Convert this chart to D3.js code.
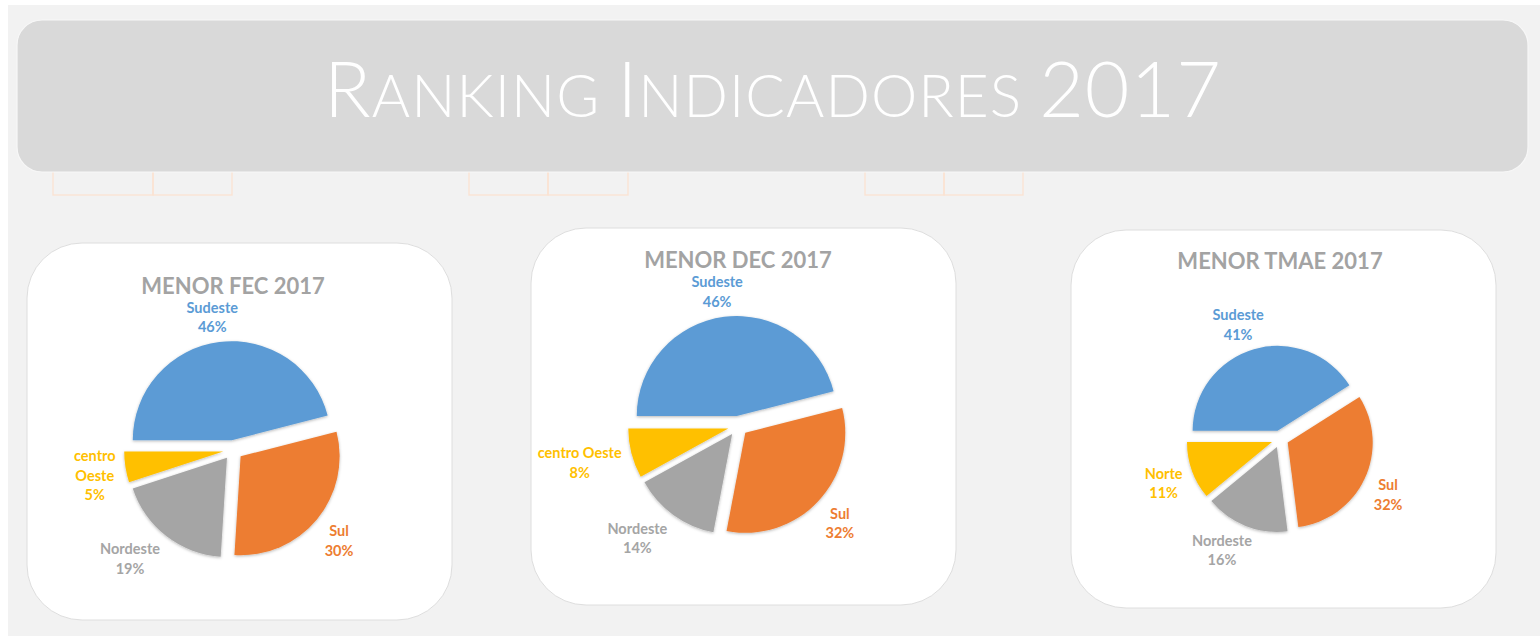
<!DOCTYPE html>
<html>
<head>
<meta charset="utf-8">
<script src="https://cdn.jsdelivr.net/npm/d3@7"></script>
<style>
html, body { margin: 0; padding: 0; background: #fff; }
svg { display: block; }
</style>
</head>
<body>
<svg id="chart" width="1540" height="636"></svg>
<script>
// dados
var regioesFEC = ["Sudeste", "Sul", "Nordeste", "centro Oeste"];
var valoresFEC = [46, 30, 19, 5];
var regioesDEC = ["Sudeste", "Sul", "Nordeste", "centro Oeste"];
var valoresDEC = [46, 32, 14, 8];
var regioesTMAE = ["Sudeste", "Sul", "Nordeste", "Norte"];
var valoresTMAE = [41, 32, 16, 11];
var titulos = ["MENOR FEC 2017", "MENOR DEC 2017", "MENOR TMAE 2017"];
var tituloGeral = [["R", 1], ["ANKING ", 0.76], ["I", 1], ["NDICADORES ", 0.76], ["2017", 1]];
var cores = ["#5b9bd5", "#ed7d31", "#a5a5a5", "#ffc000"];

// layout de cada painel (caixa, centro da pizza, raio)
var paineis = [
	{x: 27, y: 243, w: 425, h: 377, cx: 206, cy: 207, r: 99, tituloY: 51, quebra: 70},
	{x: 531, y: 228, w: 425, h: 377, cx: 207, cy: 198, r: 100, tituloY: 40, quebra: 0},
	{x: 1071, y: 230, w: 425, h: 378, cx: 209, cy: 209, r: 85, tituloY: 39, quebra: 0}
];
var series = [
	{nomes: regioesFEC, valores: valoresFEC},
	{nomes: regioesDEC, valores: valoresDEC},
	{nomes: regioesTMAE, valores: valoresTMAE}
];

var svg = d3.select("#chart");

var defs = svg.append("defs");
defs.append("filter")
	.attr("id", "sombra")
	.attr("x", "-20%").attr("y", "-20%")
	.attr("width", "140%").attr("height", "140%")
	.append("feDropShadow")
		.attr("dx", 0).attr("dy", 1)
		.attr("stdDeviation", 1.8)
		.attr("flood-color", "#000")
		.attr("flood-opacity", 0.28);

// fundo
svg.append("rect").attr("x", 8).attr("y", 5).attr("width", 1532).attr("height", 631).style("fill", "#f2f2f2");

// restos das celulas abaixo do cabecalho
var celulas = [[53, 100, 79], [469, 79, 80], [865, 79, 79]];
celulas.forEach(function(c){
	svg.append("rect").attr("x", c[0]).attr("y", 160).attr("width", c[1]).attr("height", 35)
		.style("fill", "none").style("stroke", "#fbe2d2").style("stroke-width", 1.3);
	svg.append("rect").attr("x", c[0] + c[1]).attr("y", 160).attr("width", c[2]).attr("height", 35)
		.style("fill", "none").style("stroke", "#fbe2d2").style("stroke-width", 1.3);
});

// cabecalho
svg.append("rect")
	.attr("x", 17).attr("y", 20)
	.attr("width", 1511).attr("height", 152)
	.attr("rx", 25).attr("ry", 25)
	.style("fill", "#d9d9d9")
	.style("stroke", "#f7f7f7")
	.style("stroke-width", 1.2);

var tamTitulo = 77;
var titulo = svg.append("text")
	.attr("x", 773).attr("y", 117)
	.attr("text-anchor", "middle")
	.style("font-family", "Lato, 'Open Sans', sans-serif")
	.style("font-weight", 300)
	.style("fill", "#ffffff");
titulo.selectAll("tspan").data(tituloGeral).enter().append("tspan")
	.style("font-size", function(d){ return (tamTitulo * d[1]) + "px"; })
	.text(function(d){ return d[0]; });
// espaco entre letras para chegar na largura do original (~897px)
var nLetras = tituloGeral.map(function(d){ return d[0]; }).join("").length;
var larg = titulo.node().getComputedTextLength();
titulo.style("letter-spacing", ((897 - larg) / (nLetras - 1)) + "px");

var pie = d3.pie().sort(null).startAngle(-Math.PI / 2).endAngle(1.5 * Math.PI);

function quebraLinhas(textEl, palavras, largura){
	// quebra simples por largura
	var linhas = [], atual = "";
	palavras.forEach(function(w){
		var teste = atual ? atual + " " + w : w;
		textEl.text(teste);
		if(largura && atual && textEl.node().getComputedTextLength() > largura){
			linhas.push(atual);
			atual = w;
		} else {
			atual = teste;
		}
	});
	linhas.push(atual);
	textEl.text(null);
	return linhas;
}

var tamRotulo = 14.5, alturaLinha = 19.5, capRotulo = tamRotulo * 0.72;

paineis.forEach(function(p, i){
	var s = series[i];
	var g = svg.append("g").attr("transform", "translate(" + p.x + "," + p.y + ")");

	g.append("rect")
		.attr("x", 0).attr("y", 0)
		.attr("width", p.w).attr("height", p.h)
		.attr("rx", 55).attr("ry", 55)
		.style("fill", "#ffffff")
		.style("stroke", "#dedede")
		.style("stroke-width", 1);

	g.append("text")
		.attr("x", p.cx).attr("y", p.tituloY)
		.attr("text-anchor", "middle")
		.style("font-family", "Lato, sans-serif")
		.style("font-weight", 700)
		.style("font-size", "22px")
		.style("fill", "#a3a3a3")
		.text(titulos[i]);

	var total = d3.sum(s.valores);
	var arcs = pie(s.valores);
	var arc = d3.arc().innerRadius(0).outerRadius(p.r);
	var explode = p.r * 0.1;
	var pizza = g.append("g").attr("transform", "translate(" + p.cx + "," + p.cy + ")");

	arcs.forEach(function(d, j){
		var a = (d.startAngle + d.endAngle) / 2;
		var ux = Math.sin(a), uy = -Math.cos(a);
		pizza.append("path")
			.attr("d", arc(d))
			.attr("transform", "translate(" + (ux * explode) + "," + (uy * explode) + ")")
			.style("fill", cores[j])
			.style("filter", "url(#sombra)");
	});

	arcs.forEach(function(d, j){
		var a = (d.startAngle + d.endAngle) / 2;
		var ux = Math.sin(a), uy = -Math.cos(a);
		var dist = p.r + explode + 10;
		var ax = ux * dist, ay = uy * dist;

		var rot = pizza.append("text")
			.attr("text-anchor", "middle")
			.style("font-family", "Lato, sans-serif")
			.style("font-weight", 700)
			.style("font-size", tamRotulo + "px")
			.style("fill", cores[j]);
		var linhas = quebraLinhas(rot, s.nomes[j].split(" "), p.quebra);
		linhas.push(d3.format(".0%")(d.data / total));
		linhas.forEach(function(l, k){
			rot.append("tspan").attr("x", 0).attr("y", k * alturaLinha).text(l);
		});

		// caixa pelas letras: do topo das maiusculas ate a ultima linha de base
		var largura = rot.node().getBBox().width;
		var topo = -capRotulo, base = (linhas.length - 1) * alturaLinha;
		var altura = base - topo;
		var k = 1.8;
		var vx = Math.sign(ux) * Math.min(1, Math.abs(ux) * k);
		var vy = Math.sign(uy) * Math.min(1, Math.abs(uy) * k);
		var mx = ax + vx * largura / 2, my = ay + vy * altura / 2;
		var tx = mx, ty = my - (topo + altura / 2);
		rot.attr("transform", "translate(" + tx + "," + ty + ")");
	});
});
</script>
</body>
</html>
